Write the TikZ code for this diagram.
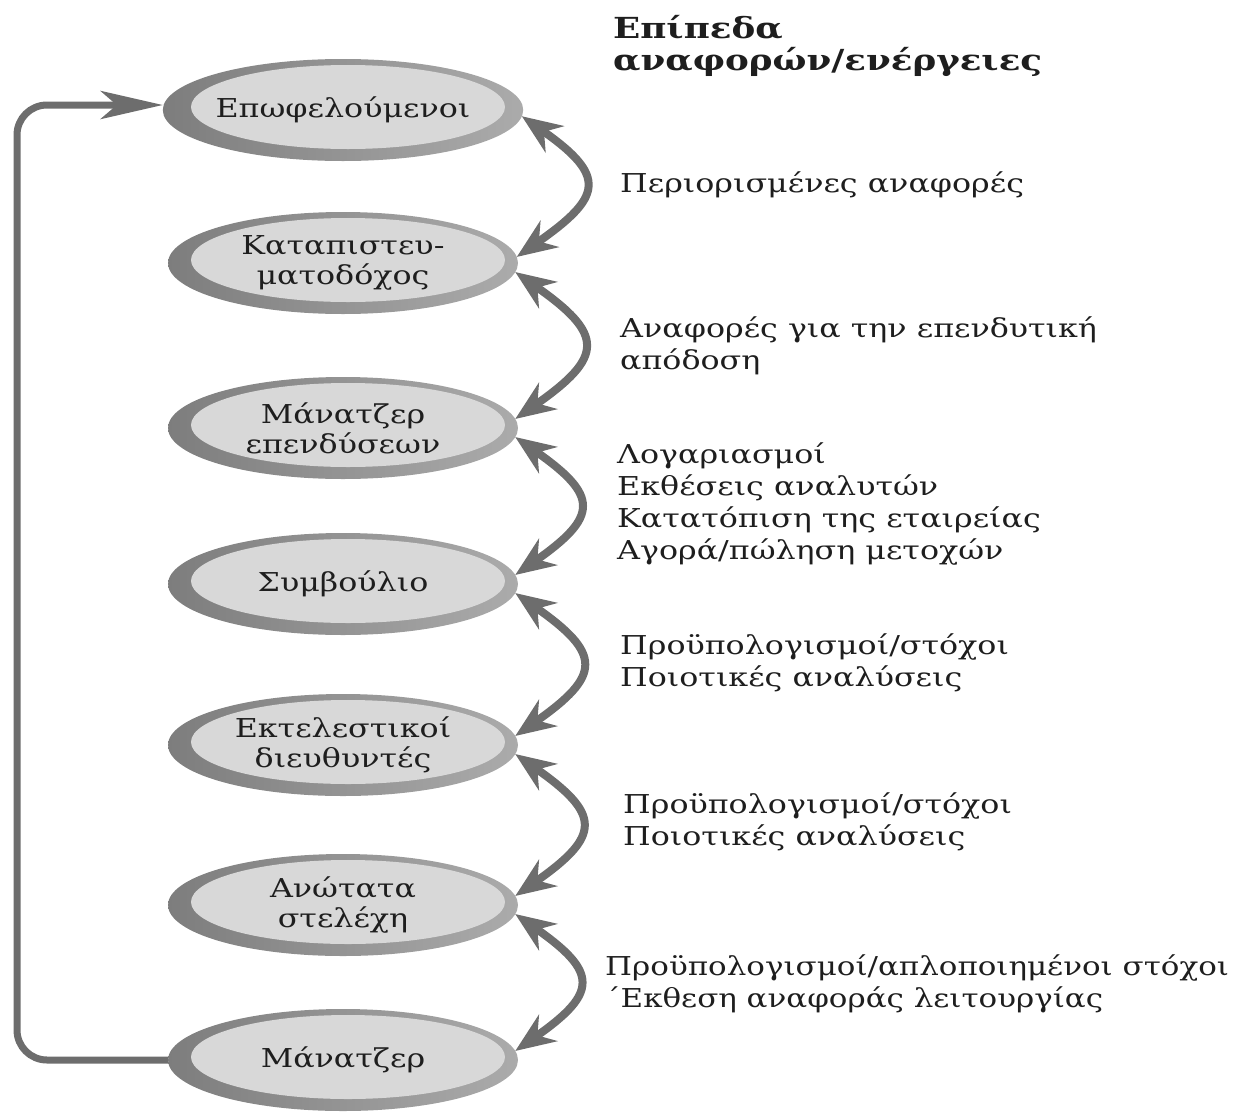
\documentclass[tikz,border=0pt]{standalone}
\usepackage{fontspec}
\setmainfont{DejaVu Serif}[FakeStretch=1.22]
\newfontfamily\titlefont{DejaVu Serif}[FakeStretch=1.23]
\newfontfamily\narrowfont{DejaVu Serif}[FakeStretch=1.19]
\usetikzlibrary{arrows.meta,shapes.geometric,calc}
\definecolor{ringdark}{HTML}{7D7D7D}
\definecolor{ringlight}{HTML}{ABABAB}
\definecolor{innerfill}{HTML}{D8D8D8}
\definecolor{arrowgray}{HTML}{6D6D6D}
\definecolor{txt}{HTML}{1E1E1E}
\begin{document}
\begin{tikzpicture}[x=1pt,y=1pt,
  ell/.style={ellipse, minimum width=350pt, minimum height=102pt, inner sep=0pt, outer sep=0pt,
    left color=ringdark, right color=ringlight, align=center, text=txt,
    font=\fontsize{26}{30}\selectfont,
    path picture={\fill[innerfill] ([xshift=5pt,yshift=3pt]path picture bounding box.center) ellipse [x radius=157pt, y radius=42pt];}},
  lab/.style={anchor=base west, align=left, inner sep=0pt, text=txt, font=\fontsize{26}{31.7}\selectfont},
  ttl/.style={anchor=base west, align=left, inner sep=0pt, text=txt, font=\titlefont\bfseries\fontsize{29}{32}\selectfont},
  link/.style={draw=arrowgray, line width=8pt,
    {Stealth[length=40pt,width=32pt,inset=13pt]}-{Stealth[length=40pt,width=32pt,inset=13pt]}},
  loopline/.style={draw=arrowgray, line width=7pt, rounded corners=30pt,
    -{Stealth[length=62pt,width=28pt,inset=16pt]}}
]
\useasboundingbox (0,0) rectangle (1235,-1117);

\node[ell] (e1) at (343,-110) {Επωφελούμενοι};
\node[ell] (e2) at (343,-263) {Καταπιστευ-\\ματοδόχος};
\node[ell] (e3) at (343,-428) {Μάνατζερ\\επενδύσεων};
\node[ell] (e4) at (343,-584) {Συμβούλιο};
\node[ell] (e5) at (343,-745) {Εκτελεστικοί\\διευθυντές};
\node[ell] (e6) at (343,-905) {Ανώτατα\\στελέχη};
\node[ell] (e7) at (343,-1060) {Μάνατζερ};

% base anchor = baseline of the last line
\node[ttl] (title) at (613,-70) {Επίπεδα\\αναφορών/ενέργειες};

\node[lab] (l1) at (620,-192) {Περιορισμένες αναφορές};
\node[lab] (l2) at (620,-369) {Αναφορές για την επενδυτική\\απόδοση};
\node[lab] (l3) at (617,-559) {Λογαριασμοί\\Εκθέσεις αναλυτών\\Κατατόπιση της εταιρείας\\Αγορά/πώληση μετοχών};
\node[lab] (l4) at (620,-686) {Προϋπολογισμοί/στόχοι\\Ποιοτικές αναλύσεις};
\node[lab] (l5) at (623,-845) {Προϋπολογισμοί/στόχοι\\Ποιοτικές αναλύσεις};
\node[lab, font=\narrowfont\fontsize{26}{31.7}\selectfont] (l6) at (605,-1007) {Προϋπολογισμοί/απλοποιημένοι στόχοι\\΄Εκθεση αναφοράς λειτουργίας};

\draw[link] (e1.-2) to[out=-35,in=35,looseness=1.9] (e2.2);
\draw[link] (e2.-3) to[out=-35,in=35,looseness=1.9] (e3.3);
\draw[link] (e3.-3) to[out=-35,in=35,looseness=1.9] (e4.3);
\draw[link] (e4.-3) to[out=-35,in=35,looseness=1.9] (e5.3);
\draw[link] (e5.-3) to[out=-35,in=35,looseness=1.9] (e6.3);
\draw[link] (e6.-3) to[out=-35,in=35,looseness=1.9] (e7.3);

\coordinate (bl) at (17,-1060);
\coordinate (tl) at (17,-105);
\draw[loopline] (e7.west) -- (bl) -- (tl) -- (tl -| e1.west);
\end{tikzpicture}
\end{document}
